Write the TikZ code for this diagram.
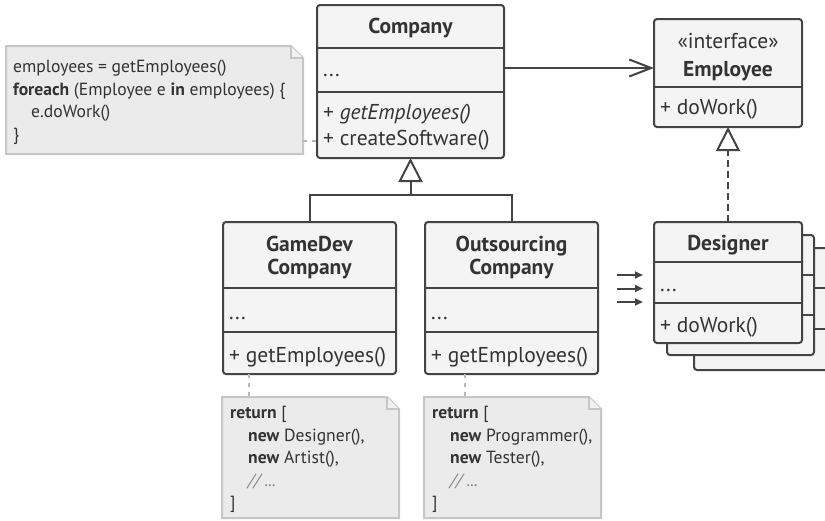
\documentclass[tikz,border=0pt]{standalone}
\usepackage{fontspec}
\setmainfont{PT Sans}
\usetikzlibrary{arrows.meta}
\definecolor{ln}{HTML}{444444}
\definecolor{txt}{HTML}{333333}
\definecolor{boxfill}{HTML}{F4F4F4}
\definecolor{notefill}{HTML}{EBEBEB}
\definecolor{noteline}{HTML}{C6C6C6}
\definecolor{noteconn}{HTML}{B8B8B8}
\definecolor{cmt}{HTML}{8A8A8A}
\begin{document}
\begin{tikzpicture}[x=1pt,y=-1pt,
  umlbox/.style={draw=ln, fill=boxfill, line width=2pt, rounded corners=3pt, anchor=north west, inner sep=0pt, outer sep=0pt},
  card/.style={draw=ln, fill=boxfill, line width=2pt, rounded corners=3pt},
  divider/.style={draw=ln, line width=2pt},
  title/.style={font=\bfseries\fontsize{21.5}{25}\selectfont, text=txt, anchor=base, inner sep=0pt},
  member/.style={font=\fontsize{21.5}{25}\selectfont, text=txt, anchor=base west, inner sep=0pt},
  notearea/.style={anchor=north west, inner sep=0pt, outer sep=0pt},
  noteshape/.style={draw=noteline, fill=notefill, line width=2pt, line join=miter},
  notetext/.style={font=\fontsize{17.6}{22.5}\selectfont, text=txt, anchor=base west, inner sep=0pt},
  conn/.style={draw=ln, line width=2pt},
  notelink/.style={draw=noteconn, line width=2pt, dash pattern=on 4pt off 5pt},
  inherit/.style={-{Triangle[open, fill=white, length=24pt, width=24pt, line join=miter]}},
  assoc/.style={-{Straight Barb[length=22pt, width=17pt, line width=2pt]}},
  feed/.style={draw=ln, line width=2pt, -{Triangle[length=8pt, width=7pt]}}
]
\clip (0,0) rectangle (825,520);
\fill[white] (0,0) rectangle (825,520);

% ---------- Company ----------
\node[umlbox, minimum width=187pt, minimum height=153pt] (company) at (317,5) {};
\draw[divider] (317,48) -- (504,48);
\draw[divider] (317,92) -- (504,92);
\node[title] (companyT) at (410.5,33) {Company};
\node[member] (companyF) at (323,76) {...};
\node[member] (companyM1) at (323,119) {+ \itshape getEmployees()};
\node[member] (companyM2) at (323,145) {+ createSoftware()};

% ---------- Employee ----------
\node[umlbox, minimum width=148pt, minimum height=108pt] (employee) at (654,19) {};
\draw[divider] (654,87) -- (802,87);
\node[member, anchor=base] (employeeS) at (728,48) {«interface»};
\node[title] (employeeT) at (728,76) {Employee};
\node[member] (employeeM) at (660,114) {+ doWork()};

% ---------- GameDev ----------
\node[umlbox, minimum width=173pt, minimum height=152pt] (gamedev) at (223,222) {};
\draw[divider] (223,288) -- (396,288);
\draw[divider] (223,332) -- (396,332);
\node[title] (gamedevT1) at (309.5,251) {GameDev};
\node[title] (gamedevT2) at (309.5,274) {Company};
\node[member] (gamedevF) at (229,319) {...};
\node[member] (gamedevM) at (229,362) {+ getEmployees()};

% ---------- Outsourcing ----------
\node[umlbox, minimum width=173pt, minimum height=152pt] (outsourcing) at (425,222) {};
\draw[divider] (425,288) -- (598,288);
\draw[divider] (425,332) -- (598,332);
\node[title] (outsT1) at (511.5,251) {Outsourcing};
\node[title] (outsT2) at (511.5,274) {Company};
\node[member] (outsF) at (431,319) {...};
\node[member] (outsM) at (431,362) {+ getEmployees()};

% ---------- Designer stack ----------
\draw[card] (694,248) rectangle (870,370);
\draw[divider] (694,288) -- (870,288);
\draw[divider] (694,329) -- (870,329);
\draw[card] (667,235) rectangle (814,355);
\draw[divider] (667,275) -- (814,275);
\draw[divider] (667,315) -- (814,315);
\node[umlbox, minimum width=148pt, minimum height=121pt] (designer) at (654,222) {};
\draw[divider] (654,262) -- (802,262);
\draw[divider] (654,303) -- (802,303);
\node[title] (designerT) at (728,250) {Designer};
\node[member] (designerF) at (660,291) {...};
\node[member] (designerM) at (660,332) {+ doWork()};

% ---------- Notes ----------
\node[notearea, minimum width=297pt, minimum height=108pt] (note1) at (6,46) {};
\draw[noteshape] (note1.north west) -- ([xshift=-12pt]note1.north east) -- ([yshift=-12pt]note1.north east) -- (note1.south east) -- (note1.south west) -- cycle;
\draw[noteshape, fill=notefill!70!white, line width=1.5pt] ([xshift=-12pt]note1.north east) -- ([xshift=-12pt,yshift=-12pt]note1.north east) -- ([yshift=-12pt]note1.north east);
\node[notetext] (n1l1) at (13,72.5) {employees = getEmployees()};
\node[notetext] (n1l2) at (13,95) {\textbf{foreach} (Employee e \textbf{in} employees) \{};
\node[notetext] (n1l3) at (31,117.5) {e.doWork()};
\node[notetext] (n1l4) at (13,140) {\}};

\node[notearea, minimum width=177pt, minimum height=121pt] (note2) at (222,397) {};
\draw[noteshape] (note2.north west) -- ([xshift=-12pt]note2.north east) -- ([yshift=-12pt]note2.north east) -- (note2.south east) -- (note2.south west) -- cycle;
\draw[noteshape, fill=notefill!70!white, line width=1.5pt] ([xshift=-12pt]note2.north east) -- ([xshift=-12pt,yshift=-12pt]note2.north east) -- ([yshift=-12pt]note2.north east);
\node[notetext] (n2l1) at (230,418.5) {\textbf{return} [};
\node[notetext] (n2l2) at (248,441) {\textbf{new} Designer(),};
\node[notetext] (n2l3) at (248,463.5) {\textbf{new} Artist(),};
\node[notetext, text=cmt] (n2l4) at (248,486) {\itshape // ...};
\node[notetext] (n2l5) at (230,508.5) {]};

\node[notearea, minimum width=177pt, minimum height=121pt] (note3) at (424,397) {};
\draw[noteshape] (note3.north west) -- ([xshift=-12pt]note3.north east) -- ([yshift=-12pt]note3.north east) -- (note3.south east) -- (note3.south west) -- cycle;
\draw[noteshape, fill=notefill!70!white, line width=1.5pt] ([xshift=-12pt]note3.north east) -- ([xshift=-12pt,yshift=-12pt]note3.north east) -- ([yshift=-12pt]note3.north east);
\node[notetext] (n3l1) at (432,418.5) {\textbf{return} [};
\node[notetext] (n3l2) at (450,441) {\textbf{new} Programmer(),};
\node[notetext] (n3l3) at (450,463.5) {\textbf{new} Tester(),};
\node[notetext, text=cmt] (n3l4) at (450,486) {\itshape // ...};
\node[notetext] (n3l5) at (432,508.5) {]};

% ---------- Connectors ----------
\coordinate (junction) at (410.5,195);
\draw[conn] (gamedev.north) |- (junction) -| (outsourcing.north);
\draw[conn, inherit] (junction) -- (company.south);
\draw[conn, assoc] ([yshift=-63pt]company.north east) -- ([yshift=-49pt]employee.north west);
\draw[conn, dash pattern=on 7pt off 4pt, inherit] (designer.north) -- (employee.south);

\coordinate (in1) at (617,275);
\coordinate (in2) at (617,288.5);
\coordinate (in3) at (617,302);
\draw[feed, shorten >=11pt] (in1) -- ([yshift=-53pt]designer.north west);
\draw[feed, shorten >=11pt] (in2) -- ([yshift=-66.5pt]designer.north west);
\draw[feed, shorten >=11pt] (in3) -- ([yshift=-80pt]designer.north west);

\draw[notelink] ([yshift=-95pt]note1.north east) -- ([yshift=-136pt]company.north west);
\draw[notelink] ([xshift=26pt]gamedev.south west) -- ([xshift=27pt]note2.north west);
\draw[notelink] ([xshift=40pt]outsourcing.south west) -- ([xshift=41pt]note3.north west);
\end{tikzpicture}
\end{document}
